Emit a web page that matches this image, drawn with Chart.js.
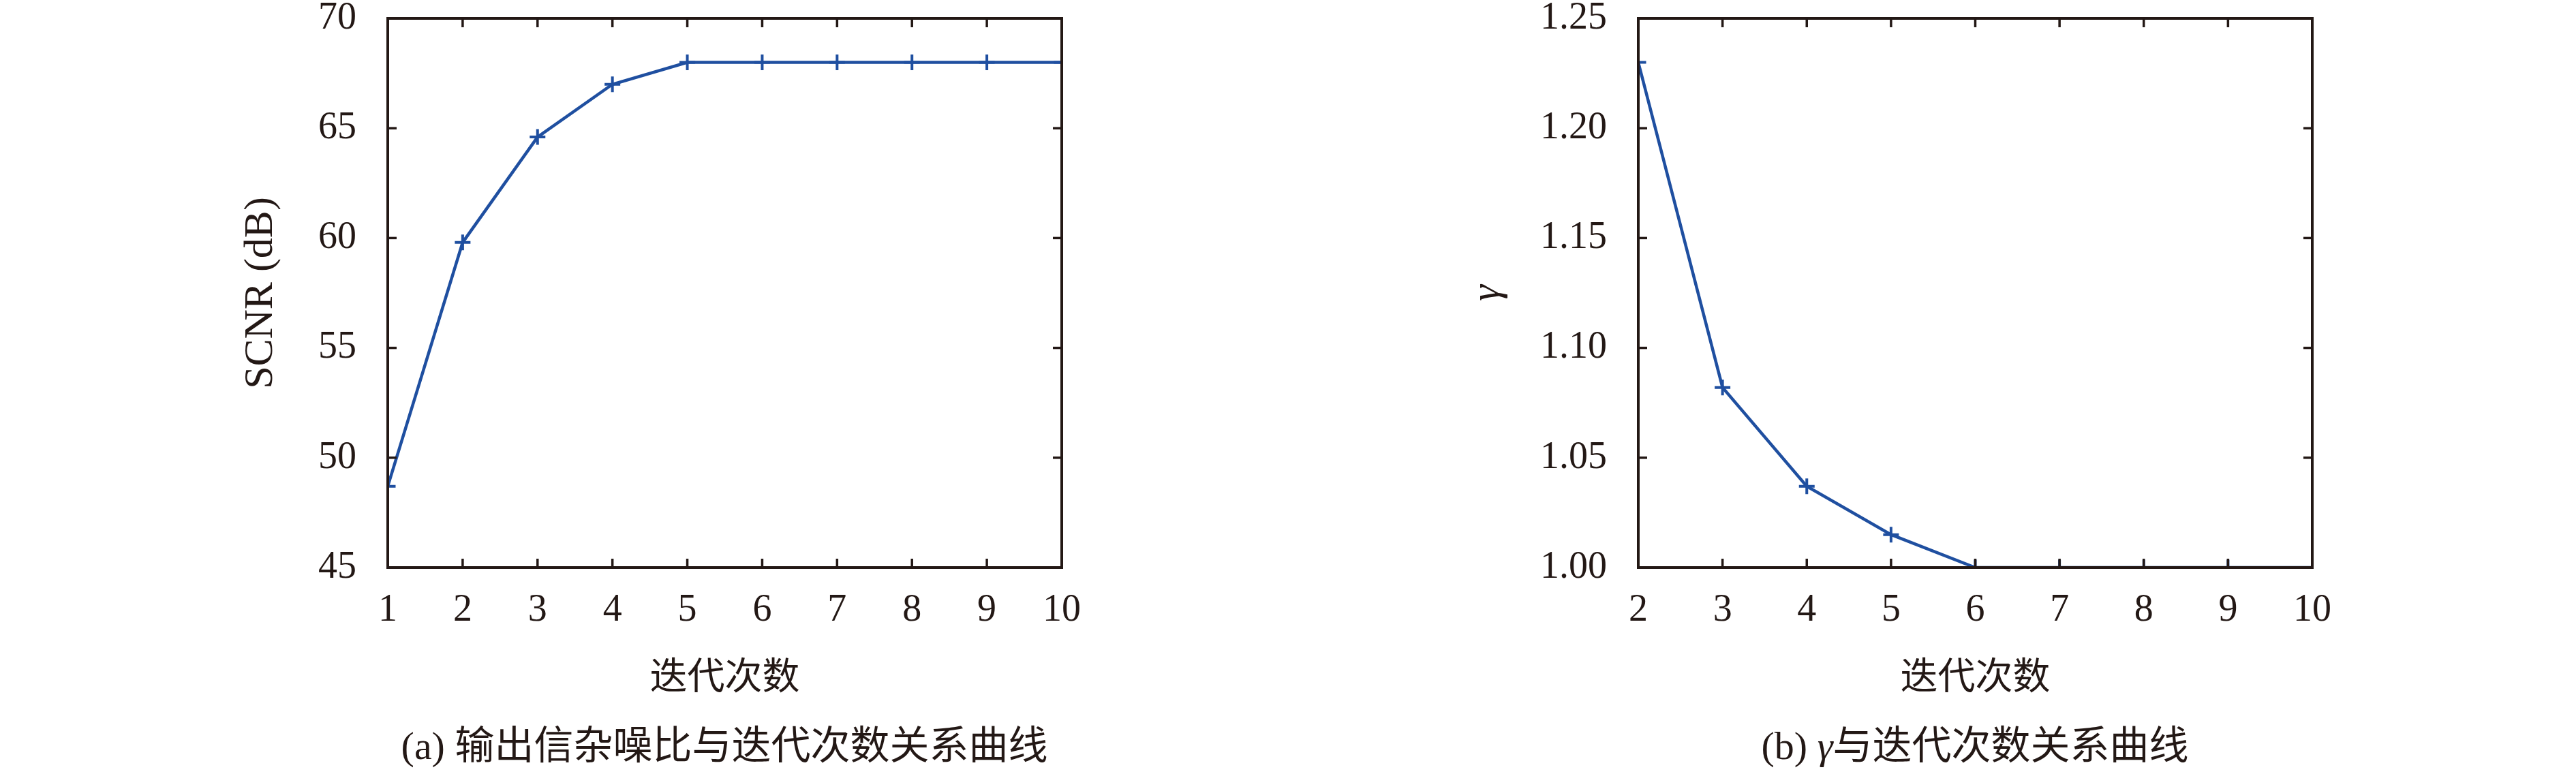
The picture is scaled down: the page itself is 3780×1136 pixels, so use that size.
<!DOCTYPE html>
<html>
<head>
<meta charset="utf-8">
<script src="https://cdn.jsdelivr.net/npm/chart.js@4"></script>
<style>
  html, body { margin: 0; padding: 0; background: #fff; }
  body { width: 3780px; height: 1136px; position: relative; overflow: hidden; }
  canvas { position: absolute; }
  .cap { position: absolute; width: 1400px; text-align: center; font-size: 58px; line-height: 70px;
         font-family: "Liberation Serif", "Noto Sans CJK SC", serif; color: #231815; white-space: nowrap; }
</style>
</head>
<body>
<div id="wrapA" style="position:absolute;left:0;top:-60px;width:1890px;height:1196px;"><canvas id="cA"></canvas></div>
<div id="wrapB" style="position:absolute;left:1890px;top:-60px;width:1890px;height:1196px;"><canvas id="cB"></canvas></div>
<div class="cap" style="left:363px;top:1060px;">(a) 输出信杂噪比与迭代次数关系曲线</div>
<div class="cap" style="left:2198px;top:1060px;">(b) <i>γ</i>与迭代次数关系曲线</div>
<script>
// ---- data ----
const iterA = [1, 2, 3, 4, 5, 6, 7, 8, 9, 10];
const scnrA = [48.7, 59.8, 64.6, 67.0, 68.0, 68.0, 68.0, 68.0, 68.0, 68.0];
const iterB = [2, 3, 4, 5, 6, 7, 8, 9, 10];
const gammaB = [1.230, 1.082, 1.037, 1.015, 1.000, 1.000, 1.000, 1.000, 1.000];
const yTicksA = [45, 50, 55, 60, 65, 70];
const yTicksB = [1.00, 1.05, 1.10, 1.15, 1.20, 1.25];
const xLabel = '迭代次数';
const yLabelA = 'SCNR (dB)';
const yLabelB = 'γ';

const INK = '#231815';
const BLUE = '#1f4fa0';

const framePlugin = {
  id: 'frame',
  afterDatasetsDraw(chart) {
    const { ctx, chartArea: a, scales: { x, y } } = chart;
    ctx.save();
    ctx.strokeStyle = INK;
    ctx.lineCap = 'butt';
    ctx.lineWidth = 3.5;
    const seg = (x1, y1, x2, y2) => { ctx.beginPath(); ctx.moveTo(x1, y1); ctx.lineTo(x2, y2); ctx.stroke(); };
    x.ticks.forEach(t => {
      const px = x.getPixelForValue(t.value);
      seg(px, a.bottom, px, a.bottom - 13);
      seg(px, a.top, px, a.top + 13);
    });
    y.ticks.forEach(t => {
      const py = y.getPixelForValue(t.value);
      seg(a.left, py, a.left + 13, py);
      seg(a.right, py, a.right - 13, py);
    });
    ctx.lineWidth = 4;
    ctx.lineJoin = 'miter';
    ctx.strokeRect(a.left, a.top, a.right - a.left, a.bottom - a.top);
    ctx.restore();
  }
};

function makeChart(id, xs, ys, xMin, xMax, yTicks, yLabel, yTitleFont, yAxisWidth, padRight, yDecimals) {
  const data = xs.map((v, i) => ({ x: v, y: ys[i] }));
  return new Chart(document.getElementById(id), {
    type: 'line',
    data: {
      datasets: [{
        data: data,
        borderColor: BLUE,
        borderWidth: 4.5,
        pointStyle: 'cross',
        pointRadius: 11.5,
        pointBorderWidth: 4,
        pointBorderColor: BLUE,
        pointBackgroundColor: BLUE,
        tension: 0,
        fill: false,
        clip: 0
      }]
    },
    options: {
      responsive: true,
      maintainAspectRatio: false,
      animation: false,
      events: [],
      layout: { padding: { left: 0, right: padRight, top: 87, bottom: 103 } },
      plugins: { legend: { display: false }, tooltip: { enabled: false }, title: { display: false } },
      scales: {
        x: {
          type: 'linear',
          position: 'bottom',
          min: xMin, max: xMax,
          grid: { display: false, drawTicks: false },
          border: { display: false },
          ticks: {
            stepSize: 1,
            padding: 30,
            color: INK,
            font: { family: 'Liberation Serif', size: 56 },
            maxRotation: 0, autoSkip: false
          },
          title: {
            display: true,
            text: xLabel,
            color: INK,
            font: { family: '"Noto Sans CJK SC"', size: 55 },
            padding: { top: 0, bottom: 10 }
          },
          afterFit(s) { s.height = 200; }
        },
        y: {
          type: 'linear',
          position: 'left',
          min: yTicks[0], max: yTicks[yTicks.length - 1],
          grid: { display: false, drawTicks: false },
          border: { display: false },
          afterBuildTicks(s) { s.ticks = yTicks.map(v => ({ value: v })); },
          ticks: {
            padding: 46,
            color: INK,
            font: { family: 'Liberation Serif', size: 56 },
            callback: v => Number(v).toFixed(yDecimals)
          },
          title: {
            display: true,
            text: yLabel,
            color: INK,
            font: yTitleFont.font,
            padding: { top: yTitleFont.pad, bottom: 0 }
          },
          afterFit(s) { s.width = yAxisWidth; }
        }
      }
    },
    plugins: [framePlugin]
  });
}

makeChart('cA', iterA, scnrA, 1, 10, yTicksA, yLabelA,
  { font: { family: 'Liberation Serif', size: 60 }, pad: 347 }, 569, 1890 - 1558, 0);
makeChart('cB', iterB, gammaB, 2, 10, yTicksB, yLabelB,
  { font: { family: 'Liberation Serif', size: 60, style: 'italic' }, pad: 257 }, 514, 1890 - 1503, 2);
</script>
</body>
</html>
